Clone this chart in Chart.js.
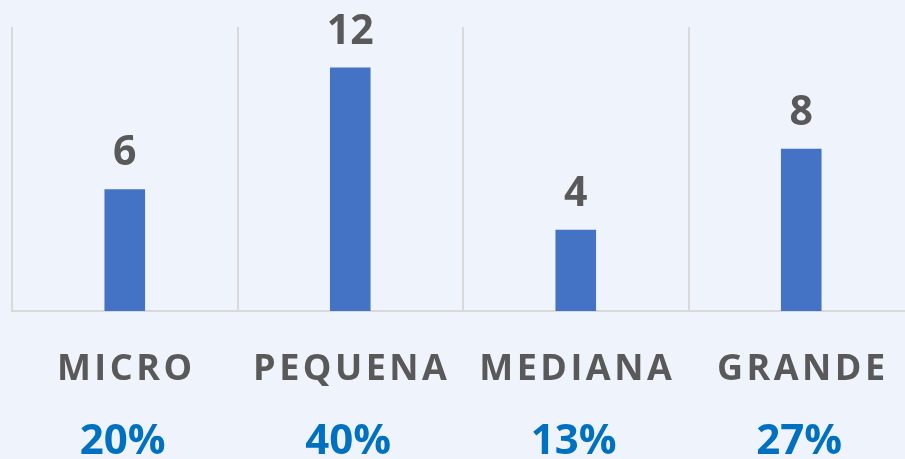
<!DOCTYPE html>
<html>
<head>
<meta charset="utf-8">
<script src="https://cdn.jsdelivr.net/npm/chart.js@4"></script>
<style>
  html, body { margin: 0; padding: 0; background: #eff3fc; overflow: hidden; }
  #wrap { width: 914px; height: 459px; position: relative; }
</style>
</head>
<body>
<div id="wrap"><canvas id="empresas-chart"></canvas></div>
<script>
const categories = ['MICRO', 'PEQUENA', 'MEDIANA', 'GRANDE'];
const counts = [6, 12, 4, 8];
const percentLabels = ['20%', '40%', '13%', '27%'];

const FONT = "'Open Sans', sans-serif";

// value labels above each bar
const valueLabels = {
    id: 'valueLabels',
    afterDatasetsDraw(chart) {
        const ctx = chart.ctx;
        const meta = chart.getDatasetMeta(0);
        ctx.save();
        ctx.font = 'bold 41px ' + FONT;
        ctx.fillStyle = '#595959';
        ctx.textAlign = 'center';
        ctx.textBaseline = 'alphabetic';
        meta.data.forEach((bar, i) => {
            ctx.fillText(String(counts[i]), bar.x, bar.y - 24);
        });
        ctx.restore();
    }
};

// category names and percentages under the axis
const bottomLabels = {
    id: 'bottomLabels',
    afterDraw(chart) {
        const ctx = chart.ctx;
        const x = chart.scales.x;
        ctx.save();
        ctx.textAlign = 'center';
        ctx.textBaseline = 'alphabetic';
        categories.forEach((name, i) => {
            const cx = x.getPixelForValue(i);
            ctx.font = 'bold 36px ' + FONT;
            ctx.fillStyle = '#595959';
            ctx.letterSpacing = '3.5px';
            ctx.fillText(name, cx + 1.5, 380);
            ctx.letterSpacing = '0px';
            ctx.font = 'bold 42px ' + FONT;
            ctx.fillStyle = '#0070c0';
            ctx.fillText(percentLabels[i], cx - 2, 454);
        });
        ctx.restore();
    }
};

new Chart(document.getElementById('empresas-chart'), {
    type: 'bar',
    data: {
        labels: categories,
        datasets: [{
            data: counts,
            backgroundColor: '#4472c4',
            barPercentage: 0.18,
            categoryPercentage: 1
        }]
    },
    options: {
        responsive: true,
        maintainAspectRatio: false,
        animation: false,
        layout: { padding: { left: 12, top: 27, right: 0, bottom: 148 } },
        scales: {
            x: {
                offset: true,
                grid: { offset: true, color: '#d9d9d9', lineWidth: 2, drawTicks: false },
                border: { color: '#d9d9d9', width: 2 },
                ticks: { display: false }
            },
            y: {
                display: false,
                min: 0,
                max: 14
            }
        },
        plugins: {
            legend: { display: false },
            title: { display: false },
            tooltip: { enabled: false }
        }
    },
    plugins: [valueLabels, bottomLabels]
});
</script>
</body>
</html>
